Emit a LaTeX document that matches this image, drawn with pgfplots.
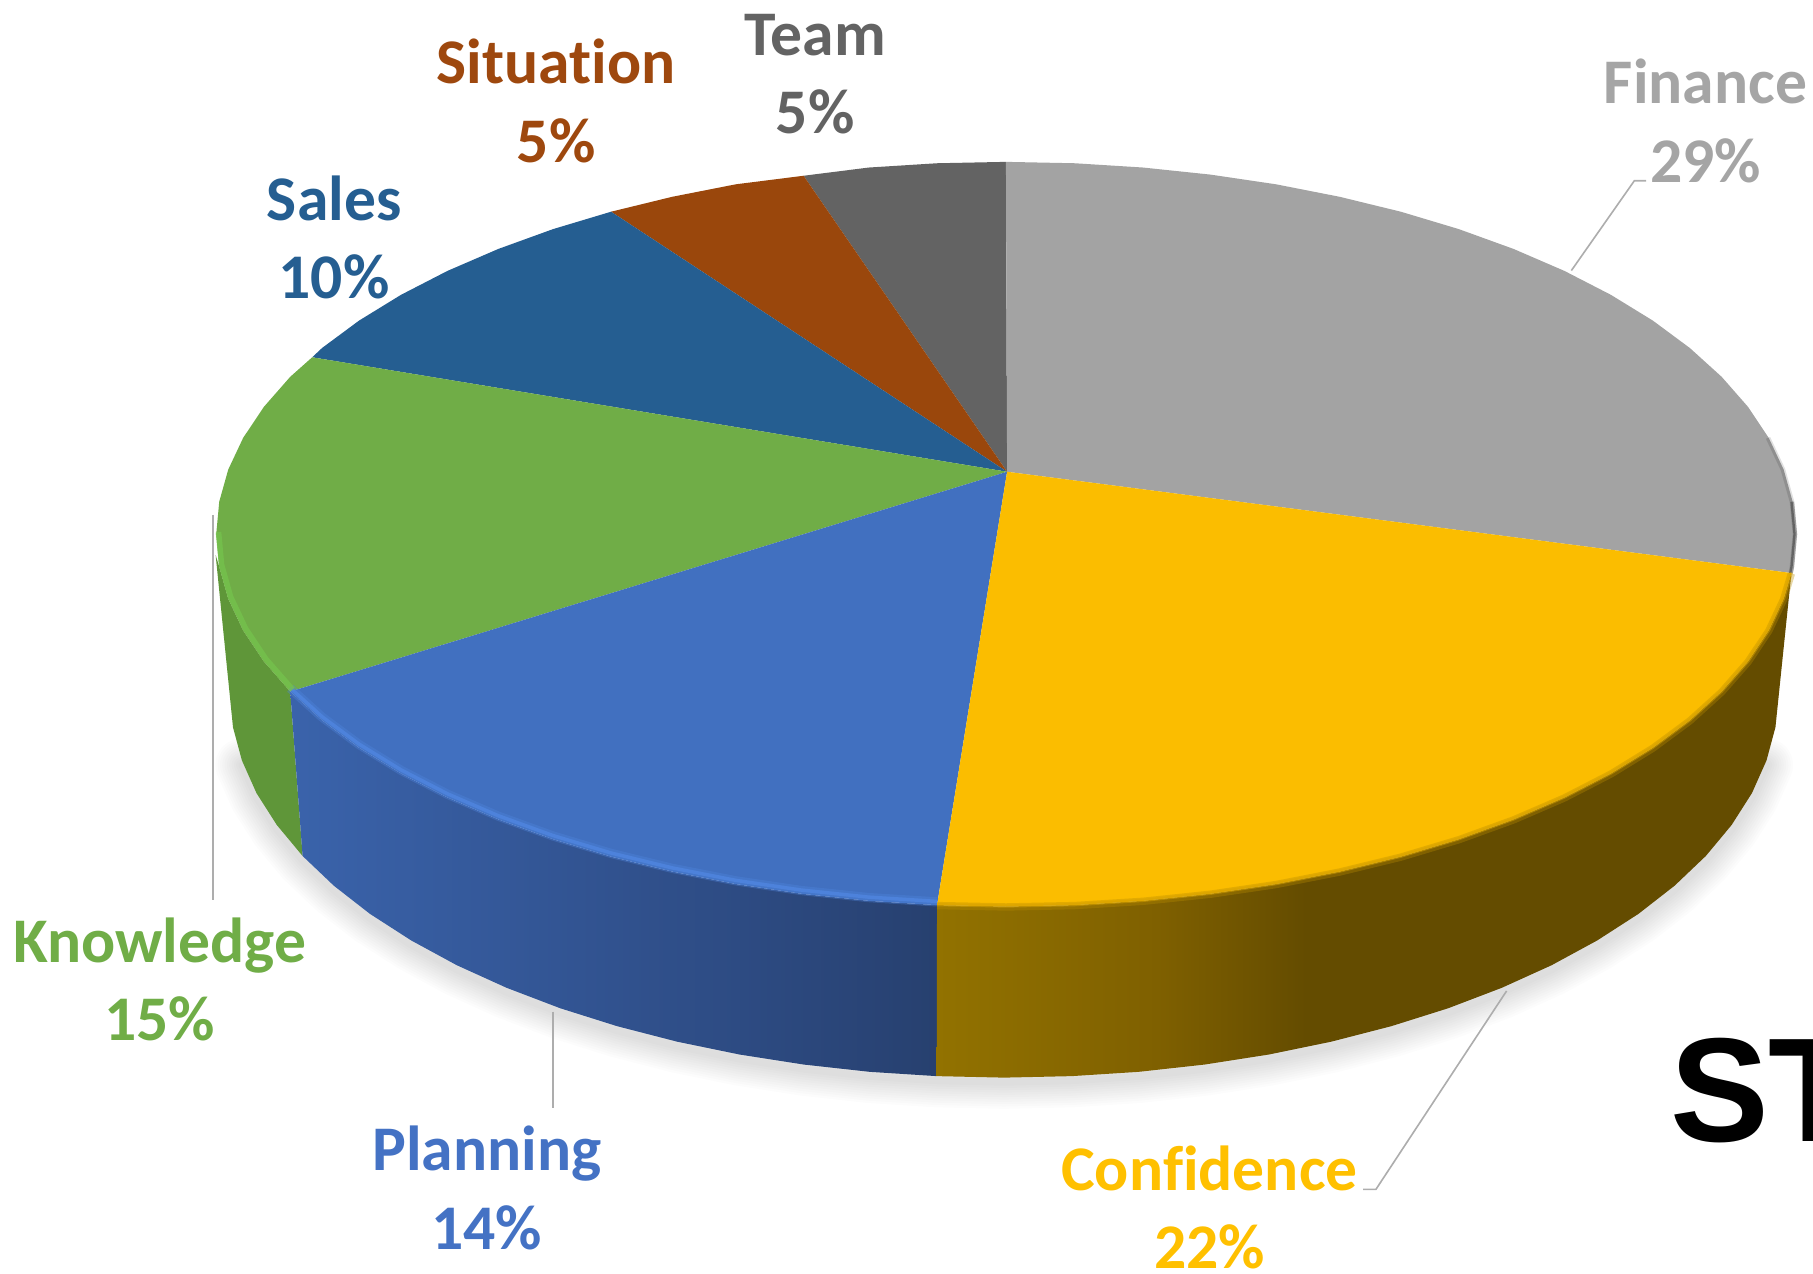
\documentclass[border=0pt]{standalone}
\usepackage{fontspec}
\setmainfont{Carlito}[Ligatures=NoCommon]
\newfontfamily\arialf{Liberation Sans}
\usepackage{pgfplots}
\usepackage{pgfplotstable}
\pgfplotsset{compat=1.18}
\definecolor{cGray}{HTML}{A3A3A3}
\definecolor{cYel}{HTML}{FBBD00}
\definecolor{cBlue}{HTML}{4170C0}
\definecolor{cGreen}{HTML}{70AD47}
\definecolor{cSales}{HTML}{255E91}
\definecolor{cSit}{HTML}{9A470C}
\definecolor{cTeam}{HTML}{636363}
\definecolor{lGray}{HTML}{A5A5A5}
\definecolor{lYel}{HTML}{FFC000}
\definecolor{lBlue}{HTML}{4472C4}
\definecolor{lGreen}{HTML}{70AD47}
\definecolor{lSales}{HTML}{255E91}
\definecolor{lSit}{HTML}{9E480E}
\definecolor{lTeam}{HTML}{636363}
\definecolor{sGreen}{HTML}{5F9639}
\definecolor{leader}{HTML}{ADADAD}
\definecolor{yelA}{HTML}{927200}
\definecolor{yelB}{HTML}{7F6000}
\definecolor{yelC}{HTML}{644C00}
\definecolor{bluA}{HTML}{3A63AB}
\definecolor{bluB}{HTML}{31528F}
\definecolor{bluC}{HTML}{27406F}
\definecolor{rimBlue}{HTML}{4F85DE}
\definecolor{rimGreen}{HTML}{74C24C}
\definecolor{rimYelA}{HTML}{B88B00}
\definecolor{rimYelB}{HTML}{D8A300}
\pgfdeclarehorizontalshading{yelshade}{100bp}{color(0bp)=(yelA); color(25bp)=(yelA); color(37.9bp)=(yelB); color(46.6bp)=(yelC); color(100bp)=(yelC)}
\pgfdeclarehorizontalshading{blushade}{100bp}{color(0bp)=(bluA); color(25bp)=(bluA); color(50bp)=(bluB); color(75bp)=(bluC); color(100bp)=(bluC)}
\tikzset{lab/.style={anchor=base, inner sep=0pt, outer sep=0pt, font=\fontsize{27.5}{32}\selectfont\bfseries}}

% top faces
\pgfplotstableread{
x y
871 408
870 140
929.6 141.2
988.6 144.9
1046.8 151
1103.6 159.4
1158.6 170.2
1211.5 183.1
1261.8 198.2
1309 215.3
1353 234.3
1393.2 255
1429.5 277.3
1461.5 301
1489 325.9
1511.8 351.9
1529.7 378.7
1542.6 406.1
1550.4 433.9
1553 462
1550.4 490.1
1549.3 495.6
}\finance
\pgfplotstableread{
x y
871 408
1549.3 495.6
1542.6 517.9
1529.7 545.3
1511.8 572.1
1489 598.1
1461.5 623
1429.5 646.7
1393.2 669
1353 689.7
1309 708.7
1261.8 725.8
1211.5 740.9
1158.6 753.8
1103.6 764.6
1046.8 773
988.6 779.1
929.6 782.8
870 784
810.4 782.8
}\confidence
\pgfplotstableread{
x y
871 408
810.4 782.8
751.4 779.1
693.2 773
636.4 764.6
581.4 753.8
528.5 740.9
478.2 725.8
431 708.7
387 689.7
346.8 669
310.5 646.7
278.5 623
251 598.1
}\planning
\pgfplotstableread{
x y
871 408
251 598.1
228.2 572.1
210.3 545.3
197.4 517.9
189.6 490.1
187 462
189.6 433.9
197.4 406.1
210.3 378.7
228.2 351.9
251 325.9
270 309
}\knowledge
\pgfplotstableread{
x y
871 408
270 309
278.5 301
310.5 277.3
346.8 255
387 234.3
431 215.3
478.2 198.2
528.5 183.1
}\sales
\pgfplotstableread{
x y
871 408
528.5 183.1
581.4 170.2
636.4 159.4
695 152
}\situation
\pgfplotstableread{
x y
871 408
695 152
751.4 144.9
810.4 141.2
870 140
}\team
% sides
\pgfplotstableread{
x y
1549.3 495.6
1542.6 517.9
1529.7 545.3
1511.8 572.1
1489 598.1
1461.5 623
1429.5 646.7
1393.2 669
1353 689.7
1309 708.7
1261.8 725.8
1211.5 740.9
1158.6 753.8
1103.6 764.6
1046.8 773
988.6 779.1
929.6 782.8
870 784
810.4 782.8
810.1 930.7
868.5 932
926.9 930.7
984.7 927
1041.8 920.7
1097.5 912
1151.4 900.9
1203.3 887.5
1252.5 872
1298.9 854.3
1341.9 834.8
1381.3 813.4
1417 790.4
1448.3 766
1475.3 740.3
1497.6 713.5
1515.2 685.9
1527.8 657.6
1535.5 629
}\confside
\pgfplotstableread{
x y
810.4 782.8
751.4 779.1
693.2 773
636.4 764.6
581.4 753.8
528.5 740.9
478.2 725.8
431 708.7
387 689.7
346.8 669
310.5 646.7
278.5 623
251 598.1
261.7 740.3
288.7 766
320 790.4
355.7 813.4
395.1 834.8
438.1 854.3
484.5 872
533.7 887.5
585.6 900.9
639.5 912
695.2 920.7
752.3 927
810.1 930.7
}\planside
\pgfplotstableread{
x y
251 598.1
228.2 572.1
210.3 545.3
197.4 517.9
189.6 490.1
186.5 480
201.5 629
209.2 657.6
221.8 685.9
239.4 713.5
261.7 740.3
}\knowside
% bottom arc (for the shadow)
\pgfplotstableread{
x y
1527.8 657.6
1515.2 685.9
1497.6 713.5
1475.3 740.3
1448.3 766
1417 790.4
1381.3 813.4
1341.9 834.8
1298.9 854.3
1252.5 872
1203.3 887.5
1151.4 900.9
1097.5 912
1041.8 920.7
984.7 927
926.9 930.7
868.5 932
810.1 930.7
752.3 927
695.2 920.7
639.5 912
585.6 900.9
533.7 887.5
484.5 872
438.1 854.3
395.1 834.8
355.7 813.4
320 790.4
288.7 766
261.7 740.3
239.4 713.5
221.8 685.9
209.2 657.6
}\botarc
% rims
\pgfplotstableread{
x y
810.4 782.8
751.4 779.1
693.2 773
636.4 764.6
581.4 753.8
528.5 740.9
478.2 725.8
431 708.7
387 689.7
346.8 669
310.5 646.7
278.5 623
251 598.1
}\blueRim
\pgfplotstableread{
x y
251 598.1
228.2 572.1
210.3 545.3
197.4 517.9
189.6 490.1
187 462
}\greenRim
\pgfplotstableread{
x y
1549.3 495.6
1542.6 517.9
1529.7 545.3
1511.8 572.1
1489 598.1
1461.5 623
1429.5 646.7
1393.2 669
1353 689.7
1309 708.7
1261.8 725.8
1211.5 740.9
1158.6 753.8
1103.6 764.6
1046.8 773
988.6 779.1
929.6 782.8
870 784
810.4 782.8
}\yelRim
\pgfplotstableread{
x y
1529.7 378.7
1542.6 406.1
1550.4 433.9
1553 462
1550.4 490.1
1549.3 495.6
}\grayRimA
\pgfplotstableread{
x y
1550.4 433.9
1553 462
1550.4 490.1
1549.3 495.6
}\grayRimB

\begin{document}
\begin{tikzpicture}
\useasboundingbox (0,0) rectangle (784pt,550.5pt);
\clip (0,0) rectangle (784pt,550.5pt);
\begin{axis}[
  at={(0,0)}, anchor=south west,
  scale only axis, width=784pt, height=550.5pt,
  xmin=0, xmax=1568, ymin=0, ymax=1101, y dir=reverse,
  hide axis, clip=false,
]
% shadow
\pgfplotsinvokeforeach{3,5,7,9,11,13,15,17,19,21,23}{
  \addplot[draw=black, draw opacity=0.011, line width=#1pt, line cap=round, line join=round, yshift=-2pt] table {\botarc};
}
% leaders behind the pie
\addplot[leader, line width=0.7pt] coordinates {(184,445.4) (184,778)};
\addplot[leader, line width=0.7pt] coordinates {(478,875) (478,958)};
\addplot[leader, line width=0.7pt] coordinates {(1303,857) (1190,1028.6) (1179,1028.6)};
\addplot[leader, line width=0.7pt] coordinates {(1359,234) (1413.5,156.3) (1423.6,156.3)};
% sides
\addplot[draw=none, fill=sGreen] table {\knowside};
\addplot[draw=none, shading=blushade] table {\planside};
\addplot[draw=none, shading=yelshade] table {\confside};
% top faces
\addplot[draw=none, fill=cTeam] table {\team};
\addplot[draw=none, fill=cSit] table {\situation};
\addplot[draw=none, fill=cSales] table {\sales};
\addplot[draw=none, fill=cGreen] table {\knowledge};
\addplot[draw=none, fill=cBlue] table {\planning};
\addplot[draw=none, fill=cGray] table {\finance};
\addplot[draw=none, fill=cYel] table {\confidence};
% rims
\addplot[draw=black, draw opacity=0.12, line width=2pt, line join=round, xshift=-0.3pt] table {\grayRimA};
\addplot[draw=black, draw opacity=0.3, line width=1.6pt, line join=round, xshift=-0.2pt] table {\grayRimB};
\addplot[draw=rimYelA, draw opacity=0.35, line width=3.2pt, line join=round, yshift=-0.2pt] table {\yelRim};
\addplot[draw=rimYelB, draw opacity=0.5, line width=1.4pt, line join=round, yshift=0.2pt] table {\yelRim};
\addplot[draw=rimBlue, draw opacity=0.35, line width=4pt, line join=round, yshift=1.4pt] table {\blueRim};
\addplot[draw=rimBlue, draw opacity=0.85, line width=1.5pt, line join=round, yshift=1.6pt] table {\blueRim};
\addplot[draw=rimGreen, draw opacity=0.8, line width=2.4pt, line join=round, xshift=1pt, yshift=0.9pt] table {\greenRim};
% labels
\node[lab, text=lGray] at (axis cs:1475,89.5) {Finance};
\node[lab, text=lGray] at (axis cs:1475,157.8) {29\%};
\node[lab, text=lTeam] at (axis cs:705,48) {Team};
\node[lab, text=lTeam] at (axis cs:705,115.5) {5\%};
\node[lab, text=lSit] at (axis cs:481,72.5) {Situation};
\node[lab, text=lSit] at (axis cs:481,140.5) {5\%};
\node[lab, text=lSales] at (axis cs:289,190.5) {Sales};
\node[lab, text=lSales] at (axis cs:289,258.5) {10\%};
\node[lab, text=lGreen] at (axis cs:138,832) {Knowledge};
\node[lab, text=lGreen] at (axis cs:138,900) {15\%};
\node[lab, text=lBlue] at (axis cs:421,1012.5) {Planning};
\node[lab, text=lBlue] at (axis cs:421,1080.5) {14\%};
\node[lab, text=lYel] at (axis cs:1046,1029.5) {Confidence};
\node[lab, text=lYel] at (axis cs:1046,1097) {22\%};
\node[anchor=base west, inner sep=0pt, outer sep=0pt, text=black, font=\arialf\fontsize{64}{70}\selectfont\bfseries] at (axis cs:1444.5,987.6) {ST};
\end{axis}
\end{tikzpicture}
\end{document}
